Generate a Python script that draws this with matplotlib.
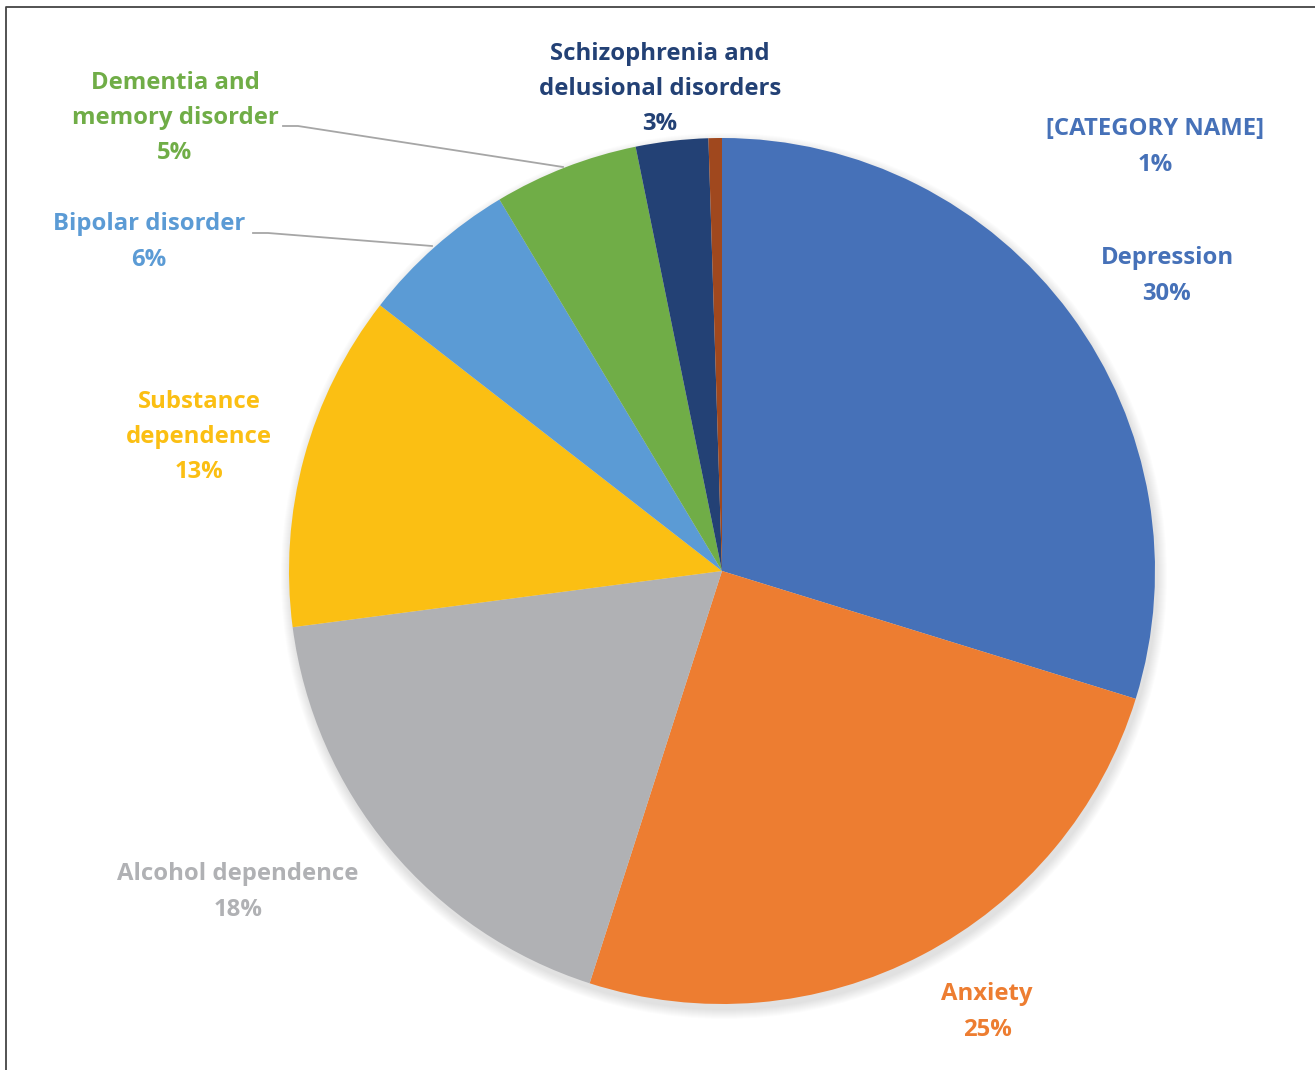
import matplotlib
matplotlib.use("Agg")
import matplotlib.pyplot as plt
from matplotlib.patches import Circle
from matplotlib.lines import Line2D

categories = ["Depression", "Anxiety", "Alcohol dependence", "Substance\ndependence",
              "Bipolar disorder", "Dementia and\nmemory disorder",
              "Schizophrenia and\ndelusional disorders", "[CATEGORY NAME]"]
values = [29.8, 25.2, 18.0, 12.6, 5.9, 5.4, 2.7, 0.5]
pct_labels = ["30%", "25%", "18%", "13%", "6%", "5%", "3%", "1%"]
colors = ["#4671B8", "#ED7D31", "#B0B1B4", "#FBBF13", "#5B9BD5", "#70AD47", "#234175", "#A0481E"]
label_colors = ["#4671B8", "#ED7D31", "#B0B1B4", "#FBBF13", "#5B9BD5", "#70AD47", "#234175", "#4671B8"]

W, H = 1315, 1070
fig = plt.figure(figsize=(W / 100, H / 100), dpi=100)
ax = fig.add_axes([0, 0, 1, 1])
ax.set_xlim(0, W)
ax.set_ylim(0, H)
ax.axis("off")

cx, cy, r = 722, H - 571, 433

# soft shadow
for k in range(10):
    ax.add_patch(Circle((cx + 2, cy - 5), r + 10 - k, color="#000000", alpha=0.012, lw=0, zorder=1))

ax.pie(values, colors=colors, startangle=90, counterclock=False, center=(cx, cy), radius=r,
       wedgeprops=dict(linewidth=0), frame=True)
ax.set_xlim(0, W)
ax.set_ylim(0, H)
ax.set_aspect("equal")
ax.axis("off")

# label positions (pixel centers)
label_pos = [(1167, 276), (987, 1012), (238, 892), (199, 437), (149, 242), (175, 118), (660, 89), (1155, 147)]
for cat, pct, col, (px, py) in zip(categories, pct_labels, label_colors, label_pos):
    ax.text(px, H - py, f"{cat}\n{pct}", ha="center", va="center", color=col,
            fontsize=17.2, fontweight="bold", family="Open Sans", linespacing=1.62, zorder=5)

lc = "#A6A6A6"
ax.add_line(Line2D([283, 298, 563], [H - 126, H - 126, H - 167], color=lc, lw=1.3, zorder=4))
ax.add_line(Line2D([253, 268, 432], [H - 233, H - 233, H - 246], color=lc, lw=1.3, zorder=4))

# frame border (left and top)
ax.add_line(Line2D([6.5, 6.5, W + 5], [-5, H - 6.5, H - 6.5], color="#444444", lw=1.3, zorder=6))

fig.savefig("out.png", dpi=100)
